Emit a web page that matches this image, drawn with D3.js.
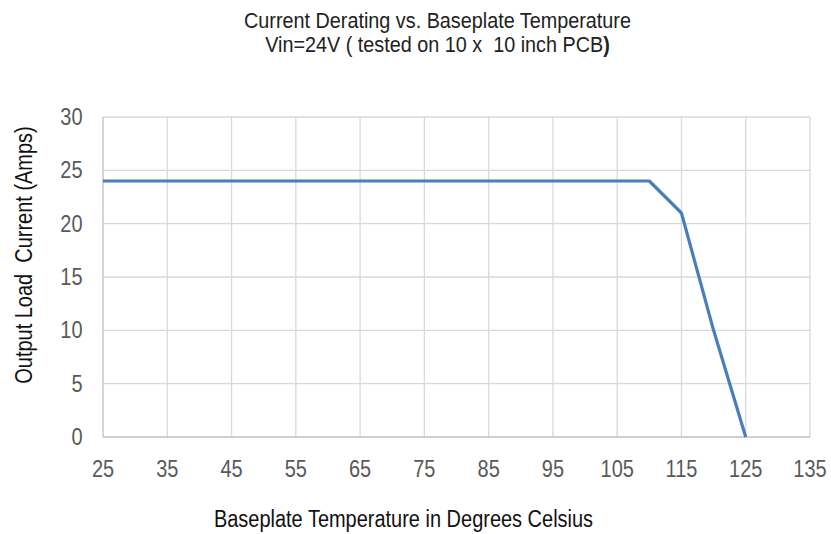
<!DOCTYPE html>
<html>
<head>
<meta charset="utf-8">
<script src="https://cdn.jsdelivr.net/npm/d3@7"></script>
<style>
  body { margin: 0; background: #fff; }
  text { font-family: "Liberation Sans", Arial, sans-serif; }
</style>
</head>
<body>
<div id="chart"></div>
<script>
// Data
var temps = [25, 110, 115, 120, 125];
var amps = [24, 24, 21, 10, 0];
var xTicks = [25, 35, 45, 55, 65, 75, 85, 95, 105, 115, 125, 135];
var yTicks = [0, 5, 10, 15, 20, 25, 30];

var width = 831, height = 534;
var plotLeft = 103, plotRight = 810, plotTop = 117, plotBottom = 437;

// condensed look: squeeze the glyphs horizontally
var squeeze = "scale(0.85,1)";
var fontSize = 23.5;

var svg = d3.select("#chart").append("svg")
    .attr("width", width)
    .attr("height", height);

var x = d3.scaleLinear().domain([25, 135]).range([plotLeft, plotRight]);
var y = d3.scaleLinear().domain([0, 30]).range([plotBottom, plotTop]);

// grid
svg.append("g").selectAll("line")
    .data(xTicks.slice(1))
    .enter().append("line")
    .attr("x1", d => x(d)).attr("x2", d => x(d))
    .attr("y1", plotTop).attr("y2", plotBottom)
    .attr("stroke", "#d9d9d9").attr("stroke-width", 1.3);

svg.append("g").selectAll("line")
    .data(yTicks.slice(1))
    .enter().append("line")
    .attr("x1", plotLeft).attr("x2", plotRight)
    .attr("y1", d => y(d)).attr("y2", d => y(d))
    .attr("stroke", "#d9d9d9").attr("stroke-width", 1.3);

// axes lines
svg.append("line")
    .attr("x1", plotLeft).attr("x2", plotLeft)
    .attr("y1", plotTop).attr("y2", plotBottom)
    .attr("stroke", "#bfbfbf").attr("stroke-width", 1.3);
svg.append("line")
    .attr("x1", plotLeft).attr("x2", plotRight)
    .attr("y1", plotBottom).attr("y2", plotBottom)
    .attr("stroke", "#bfbfbf").attr("stroke-width", 1.3);

// tick labels
svg.append("g").selectAll("text")
    .data(yTicks)
    .enter().append("text")
    .attr("transform", d => "translate(82.5," + (y(d) + 8) + ") " + squeeze)
    .attr("text-anchor", "end")
    .attr("font-size", fontSize)
    .attr("fill", "#595959")
    .text(d => d);

svg.append("g").selectAll("text")
    .data(xTicks)
    .enter().append("text")
    .attr("transform", d => "translate(" + x(d) + ",476.5) " + squeeze)
    .attr("text-anchor", "middle")
    .attr("font-size", fontSize)
    .attr("fill", "#595959")
    .text(d => d);

// the curve
var line = d3.line()
    .x((d, i) => x(temps[i]))
    .y(d => y(d));

svg.append("path")
    .datum(amps)
    .attr("d", line)
    .attr("fill", "none")
    .attr("stroke", "#4a7ebb")
    .attr("stroke-width", 3.2)
    .attr("stroke-linejoin", "round");

// titles
var titleSqueeze = "scale(0.88,1)";
svg.append("text")
    .attr("transform", "translate(437.5,27.5) " + titleSqueeze)
    .attr("text-anchor", "middle")
    .attr("font-size", 22.5)
    .attr("fill", "#222")
    .text("Current Derating vs. Baseplate Temperature");

var t2 = svg.append("text")
    .attr("transform", "translate(437.5,51.5) " + titleSqueeze)
    .attr("text-anchor", "middle")
    .attr("font-size", 22.5)
    .attr("fill", "#222")
    .attr("xml:space", "preserve");
t2.append("tspan").text("Vin=24V ( tested on 10 x  10 inch PCB");
t2.append("tspan").attr("font-weight", "bold").text(")");

svg.append("text")
    .attr("transform", "translate(403.5,526.5) " + squeeze)
    .attr("text-anchor", "middle")
    .attr("font-size", fontSize)
    .attr("fill", "#111")
    .text("Baseplate Temperature in Degrees Celsius");

svg.append("text")
    .attr("transform", "translate(32,255) rotate(-90) " + squeeze)
    .attr("text-anchor", "middle")
    .attr("font-size", fontSize)
    .attr("fill", "#111")
    .attr("xml:space", "preserve")
    .text("Output Load  Current (Amps)");
</script>
</body>
</html>
